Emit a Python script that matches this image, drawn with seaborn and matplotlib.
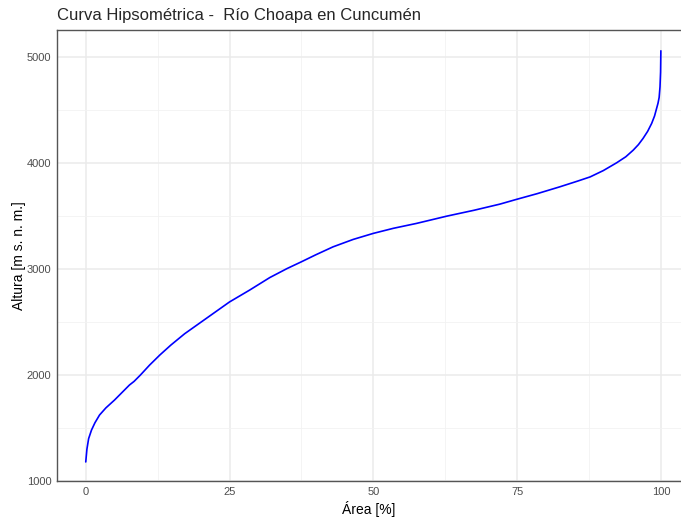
import numpy as np
import pandas as pd
import seaborn as sns
from matplotlib import pyplot as plt
from matplotlib.ticker import MultipleLocator

# curva hipsometrica
area = [0.0, 0.2, 0.5, 1.0, 1.6, 2.4, 3.5, 5.0, 6.3, 7.6, 8.4, 9.5, 11.1, 12.9,
        14.8, 17.2, 19.8, 22.4, 25.0, 28.5, 32.0, 35.0, 37.5, 40.0, 43.0, 46.5,
        50.0, 53.5, 57.5, 62.8, 67.5, 72.0, 74.9, 78.5, 82.4, 85.5, 87.7,
        90.0, 92.3, 93.9, 95.2, 96.1, 96.9, 97.7, 98.4, 98.9, 99.25, 99.5,
        99.7, 99.85, 99.95, 100.0]
altura = [1180, 1300, 1400, 1481, 1550, 1623, 1690, 1764, 1835, 1906, 1940,
          2000, 2094, 2190, 2283, 2390, 2490, 2590, 2690, 2802, 2920, 3005,
          3069, 3135, 3210, 3280, 3337, 3385, 3431, 3500, 3555, 3613, 3658,
          3712, 3776, 3830, 3870, 3930, 4003, 4060, 4123, 4175, 4233, 4300,
          4375, 4445, 4515, 4565, 4620, 4720, 4860, 5060]

df = pd.DataFrame({'area': area, 'altura': altura})

sns.set_style('white')
plt.rcParams['font.family'] = ['Liberation Sans', 'DejaVu Sans']

fig = plt.figure(figsize=(6.81, 5.2), dpi=100)
ax = fig.add_axes([0.0837, 0.075, 0.9163, 0.867])

sns.lineplot(data=df, x='area', y='altura', color='blue', linewidth=1.2, sort=False, ax=ax)

ax.set_xlim(-5, 103.5)
ax.set_ylim(1000, 5255)
ax.xaxis.set_major_locator(MultipleLocator(25))
ax.xaxis.set_minor_locator(MultipleLocator(12.5))
ax.yaxis.set_major_locator(MultipleLocator(1000))
ax.yaxis.set_minor_locator(MultipleLocator(500))
ax.grid(which='major', color='#ebebeb', linewidth=1.1)
ax.grid(which='minor', color='#f2f2f2', linewidth=0.6)
ax.set_axisbelow(True)

ax.tick_params(which='both', length=0, labelsize=8, labelcolor='#4d4d4d', pad=4)
for s in ['left', 'bottom', 'top']:
    ax.spines[s].set_color('#555555')
    ax.spines[s].set_linewidth(1.0)
ax.spines['right'].set_visible(False)

ax.set_xlabel('Área [%]', fontsize=10, color='black', labelpad=3)
ax.set_ylabel('Altura [m s. n. m.]', fontsize=10, color='black')
ax.yaxis.set_label_coords(-0.049, 0.5)
ax.set_title('Curva Hipsométrica -  Río Choapa en Cuncumén', fontsize=12, loc='left', pad=7)

fig.savefig('out.png', dpi=100)
